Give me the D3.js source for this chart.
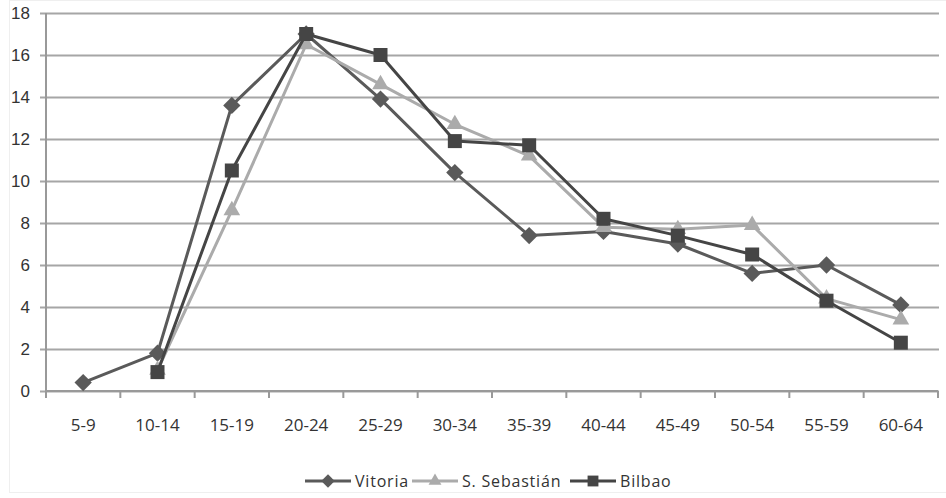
<!DOCTYPE html>
<html><head><meta charset="utf-8">
<script src="https://cdn.jsdelivr.net/npm/d3@7"></script>
<style>
html,body{margin:0;padding:0;background:#fff;}
svg{display:block;font-family:"Open Sans","Noto Sans",sans-serif;}
</style></head>
<body><svg id="chart" width="946" height="498"></svg>
<script>
// Age groups on the x axis
const categories = ["5-9","10-14","15-19","20-24","25-29","30-34","35-39","40-44","45-49","50-54","55-59","60-64"];
// Percentages per age group (null = no value)
const vitoria      = [0.4, 1.8, 13.6, 17.0, 13.9, 10.4, 7.4, 7.6, 7.0, 5.6, 6.0, 4.1];
const sSebastian   = [null, 1.0, 8.6, 16.5, 14.6, 12.7, 11.2, 7.8, 7.7, 7.9, 4.4, 3.4];
const bilbao       = [null, 0.9, 10.5, 17.0, 16.0, 11.9, 11.7, 8.2, 7.4, 6.5, 4.3, 2.3];
const yTicks = [0, 2, 4, 6, 8, 10, 12, 14, 16, 18];

// Diamond = square turned 45 degrees
const seriesList = [
  {name: "Vitoria", values: vitoria, color: "#5a5a5a", symbol: d3.symbolSquare, size: 150, rotate: 45},
  {name: "S. Sebastián", values: sSebastian, color: "#ababab", symbol: d3.symbolTriangle, size: 120, rotate: 0},
  {name: "Bilbao", values: bilbao, color: "#454545", symbol: d3.symbolSquare, size: 196, rotate: 0}
];

const svg = d3.select("#chart");
const m = {left: 46, right: 938, top: 13, bottom: 391};

// Chart frame
svg.append("rect").attr("x", 9.5).attr("y", 0.5).attr("width", 940).attr("height", 492)
  .attr("fill", "#fff").attr("stroke", "#efefef");

const x = d3.scaleBand().domain(categories).range([m.left, m.right]).padding(0);
const y = d3.scaleLinear().domain([0, 18]).range([m.bottom, m.top]);

// Horizontal gridlines with small ticks left of the axis
const yAxis = d3.axisLeft(y).tickValues(yTicks).tickSize(-(m.right - m.left + 7)).tickPadding(12).tickFormat(d3.format("d"));
const gy = svg.append("g").attr("transform", `translate(${m.left - 6},0)`).call(yAxis);
gy.select(".domain").remove();
gy.selectAll(".tick line").attr("stroke", "#a6a6a6").attr("stroke-width", 2);
gy.selectAll(".tick text").attr("font-size", 17).attr("fill", "#333").attr("x", -10);

// Vertical axis line
svg.append("line").attr("x1", m.left).attr("x2", m.left).attr("y1", m.top).attr("y2", m.bottom)
  .attr("stroke", "#999").attr("stroke-width", 2);

// Category axis: ticks at band boundaries, labels centered
const gx = svg.append("g").attr("transform", `translate(0,${m.bottom})`);
gx.append("line").attr("x1", m.left).attr("x2", m.right).attr("stroke", "#999").attr("stroke-width", 2);
const bounds = categories.map(c => x(c)).concat([m.right]);
gx.selectAll("line.tk").data(bounds).enter().append("line").attr("class", "tk")
  .attr("x1", d => d).attr("x2", d => d).attr("y1", 0).attr("y2", 7)
  .attr("stroke", "#999").attr("stroke-width", 2);
gx.selectAll("text").data(categories).enter().append("text")
  .attr("x", d => x(d) + x.bandwidth() / 2).attr("y", 40)
  .attr("text-anchor", "middle").attr("font-size", 17).attr("fill", "#333").text(d => d);

const cx = c => x(c) + x.bandwidth() / 2;
const line = d3.line().defined(d => d.v !== null).x(d => cx(d.c)).y(d => y(d.v));

seriesList.forEach(s => {
  const pts = categories.map((c, i) => ({c, v: s.values[i]}));
  svg.append("path").datum(pts).attr("d", line).attr("fill", "none")
    .attr("stroke", s.color).attr("stroke-width", 3).attr("stroke-linejoin", "round");
  svg.append("g").selectAll("path").data(pts.filter(d => d.v !== null)).enter().append("path")
    .attr("d", d3.symbol().type(s.symbol).size(s.size))
    .attr("transform", d => `translate(${cx(d.c)},${y(d.v)}) rotate(${s.rotate})`)
    .attr("fill", s.color);
});

// Legend
const legend = svg.append("g").attr("transform", "translate(0,481)");
const legX = [305, 412, 570];
seriesList.forEach((s, i) => {
  const g = legend.append("g").attr("transform", `translate(${legX[i]},0)`);
  g.append("line").attr("x1", 0).attr("x2", 46).attr("stroke", s.color).attr("stroke-width", 3);
  g.append("path").attr("d", d3.symbol().type(s.symbol).size(s.size * 0.6))
    .attr("transform", `translate(23,0) rotate(${s.rotate})`).attr("fill", s.color);
  g.append("text").attr("x", 50).attr("y", 6).attr("font-size", 16).attr("letter-spacing", 0.8)
    .attr("fill", "#333").text(s.name);
});
</script></body></html>
